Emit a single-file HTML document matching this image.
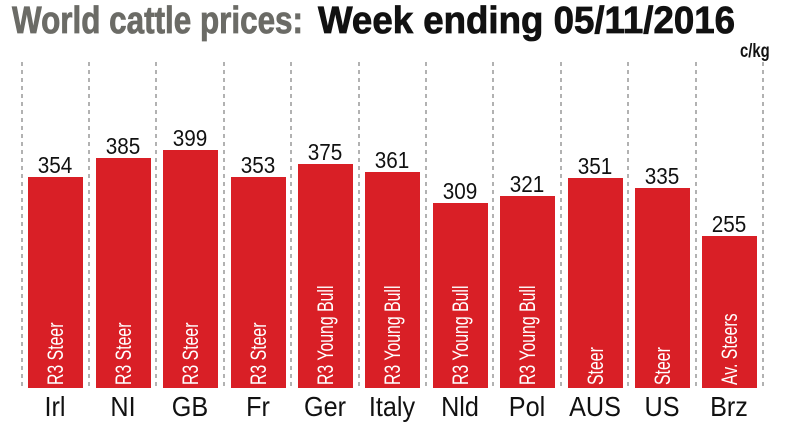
<!DOCTYPE html>
<html><head><meta charset="utf-8"><style>
html,body{margin:0;padding:0;background:#fff;}
svg{display:block;}
text{font-family:"Liberation Sans",sans-serif;}
</style></head><body>
<svg width="790" height="426" viewBox="0 0 790 426" xmlns="http://www.w3.org/2000/svg">
<text x="12" y="33" font-size="38" font-weight="bold" fill="#6b6b66" stroke="#6b6b66" stroke-width="0.8" textLength="291" lengthAdjust="spacingAndGlyphs">World cattle prices:</text>
<text x="318" y="33" font-size="38" font-weight="bold" fill="#111" stroke="#111" stroke-width="0.8" textLength="417" lengthAdjust="spacingAndGlyphs">Week ending 05/11/2016</text>
<text transform="translate(740,57) scale(0.78,1)" font-size="19" font-weight="bold" fill="#111">c/kg</text>
<g stroke="#888" stroke-width="1.3" stroke-dasharray="4,4">
<line x1="22" y1="62" x2="22" y2="390"/><line x1="89" y1="62" x2="89" y2="390"/><line x1="156" y1="62" x2="156" y2="390"/><line x1="224" y1="62" x2="224" y2="390"/><line x1="291" y1="62" x2="291" y2="390"/><line x1="359" y1="62" x2="359" y2="390"/><line x1="426" y1="62" x2="426" y2="390"/><line x1="493" y1="62" x2="493" y2="390"/><line x1="561" y1="62" x2="561" y2="390"/><line x1="628" y1="62" x2="628" y2="390"/><line x1="696" y1="62" x2="696" y2="390"/><line x1="763" y1="62" x2="763" y2="390"/>
</g>
<g fill="#d91f26">
<rect x="28" y="177" width="55" height="211"/>
<rect x="96" y="158" width="55" height="230"/>
<rect x="163" y="150" width="55" height="238"/>
<rect x="231" y="177" width="55" height="211"/>
<rect x="298" y="164" width="55" height="224"/>
<rect x="365" y="172" width="55" height="216"/>
<rect x="433" y="203" width="55" height="185"/>
<rect x="500" y="196" width="55" height="192"/>
<rect x="568" y="178" width="55" height="210"/>
<rect x="635" y="188" width="55" height="200"/>
<rect x="702" y="236" width="55" height="152"/>
</g>
<g font-size="23" fill="#111" text-anchor="middle">
<text transform="translate(55,173) scale(0.9,1)">354</text>
<text transform="translate(123,154) scale(0.9,1)">385</text>
<text transform="translate(190,146) scale(0.9,1)">399</text>
<text transform="translate(258,173) scale(0.9,1)">353</text>
<text transform="translate(325,160) scale(0.9,1)">375</text>
<text transform="translate(392,168) scale(0.9,1)">361</text>
<text transform="translate(460,199) scale(0.9,1)">309</text>
<text transform="translate(527,192) scale(0.9,1)">321</text>
<text transform="translate(595,174) scale(0.9,1)">351</text>
<text transform="translate(662,184) scale(0.9,1)">335</text>
<text transform="translate(729,232) scale(0.9,1)">255</text>
</g>
<g font-size="28" fill="#111" text-anchor="middle">
<text transform="translate(55,416) scale(0.9,1)">Irl</text>
<text transform="translate(123,416) scale(0.9,1)">NI</text>
<text transform="translate(190,416) scale(0.9,1)">GB</text>
<text transform="translate(258,416) scale(0.9,1)">Fr</text>
<text transform="translate(325,416) scale(0.9,1)">Ger</text>
<text transform="translate(392,416) scale(0.9,1)">Italy</text>
<text transform="translate(460,416) scale(0.9,1)">Nld</text>
<text transform="translate(527,416) scale(0.9,1)">Pol</text>
<text transform="translate(595,416) scale(0.9,1)">AUS</text>
<text transform="translate(662,416) scale(0.9,1)">US</text>
<text transform="translate(729,416) scale(0.9,1)">Brz</text>
</g>
<g font-size="22" fill="#fff">
<text transform="translate(63,385) rotate(-90) scale(0.72,1)">R3 Steer</text>
<text transform="translate(131,385) rotate(-90) scale(0.72,1)">R3 Steer</text>
<text transform="translate(198,385) rotate(-90) scale(0.72,1)">R3 Steer</text>
<text transform="translate(266,385) rotate(-90) scale(0.72,1)">R3 Steer</text>
<text transform="translate(333,385) rotate(-90) scale(0.72,1)">R3 Young Bull</text>
<text transform="translate(400,385) rotate(-90) scale(0.72,1)">R3 Young Bull</text>
<text transform="translate(468,385) rotate(-90) scale(0.72,1)">R3 Young Bull</text>
<text transform="translate(535,385) rotate(-90) scale(0.72,1)">R3 Young Bull</text>
<text transform="translate(603,385) rotate(-90) scale(0.72,1)">Steer</text>
<text transform="translate(670,385) rotate(-90) scale(0.72,1)">Steer</text>
<text transform="translate(737,385) rotate(-90) scale(0.72,1)">Av. Steers</text>
</g>
</svg>
</body></html>
